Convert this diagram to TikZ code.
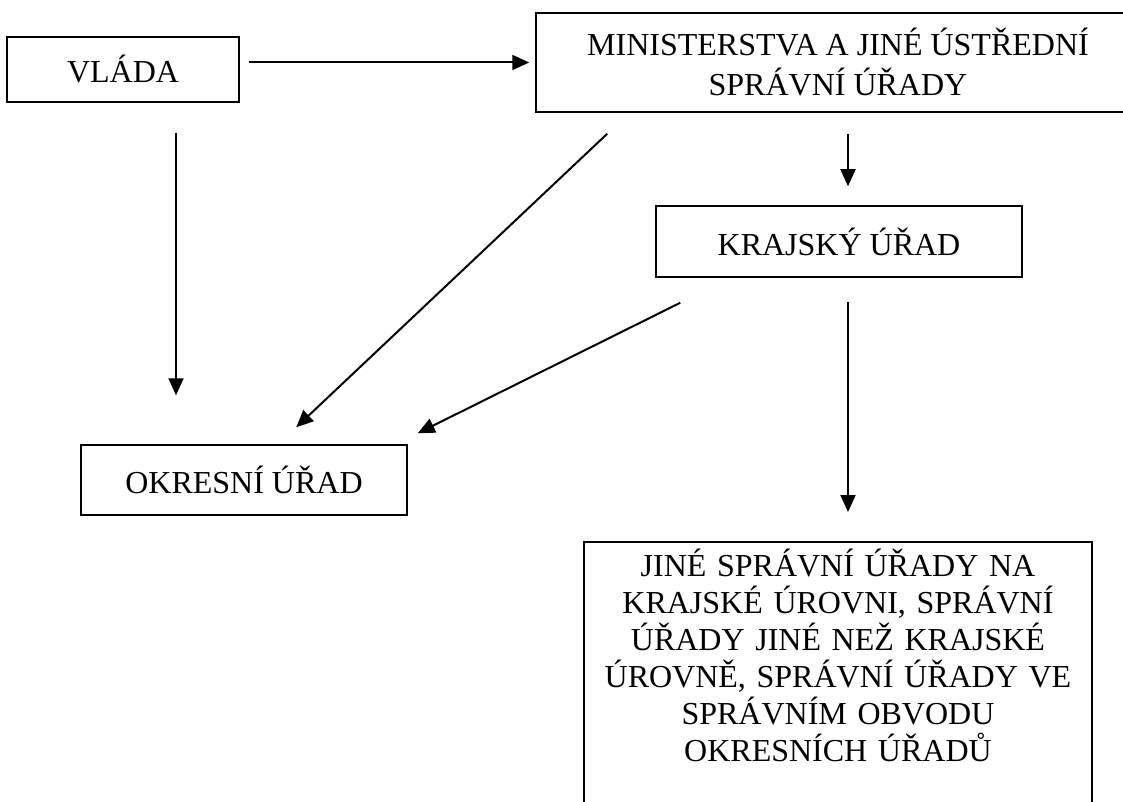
\documentclass[tikz,border=0pt]{standalone}
\usepackage{fontspec}
\setmainfont{Liberation Serif}
\usetikzlibrary{positioning,arrows.meta}
\tikzset{
	urad/.style={draw, line width=1.5pt, font=\fontsize{32}{37}\selectfont, align=center, inner sep=0pt},
	sipka/.style={line width=2pt, -{Triangle[length=17pt,width=15pt]}}
}

\begin{document}
\begin{tikzpicture}[x=1pt, y=-1pt]
	\path[use as bounding box, clip] (0,0) rectangle (1123,802);

	% urady
	\node[urad, minimum width=232pt, minimum height=65pt] (vlada) at (123,69.5) {VLÁDA};
	\node[urad, minimum width=604pt, minimum height=99pt] (min) at (838,62.5) {MINISTERSTVA A JINÉ ÚSTŘEDNÍ\\[3pt]SPRÁVNÍ ÚŘADY};
	\node[urad, minimum width=366pt, minimum height=71pt] (kraj) at (839,241.5) {KRAJSKÝ ÚŘAD};
	\node[urad, minimum width=326pt, minimum height=70pt] (okr) at (244,480) {OKRESNÍ ÚŘAD};
	\node[urad, anchor=north, text width=508pt, inner ysep=7pt, text height=28pt, text depth=300pt] (jine) at (838,541)
		{JINÉ SPRÁVNÍ ÚŘADY NA\\KRAJSKÉ ÚROVNI, SPRÁVNÍ\\ÚŘADY JINÉ NEŽ KRAJSKÉ\\ÚROVNĚ, SPRÁVNÍ ÚŘADY VE\\SPRÁVNÍM OBVODU\\OKRESNÍCH ÚŘADŮ};

	% sipky
	\draw[sipka, shorten <=9pt, shorten >=6pt] (vlada.east |- min.west) -- (min.west);
	\draw[sipka, shorten <=30pt, shorten >=49pt] ([xshift=53pt]vlada.south) -- ([xshift=-68pt]okr.north);
	\draw[sipka, shorten <=21pt, shorten >=19pt] ([xshift=9pt]min.south -| kraj.south) -- ([xshift=9pt]kraj.north);
	\draw[sipka] ([xshift=72pt, yshift=-21pt]min.south west) -- ([xshift=216pt, yshift=17pt]okr.north west);
	\draw[sipka] ([xshift=25pt, yshift=-25pt]kraj.south west) -- ([xshift=10pt, yshift=11pt]okr.north east);
	\draw[sipka, shorten <=24pt, shorten >=29pt] ([xshift=9pt]kraj.south) -- ([xshift=10pt]jine.north);
\end{tikzpicture}
\end{document}
